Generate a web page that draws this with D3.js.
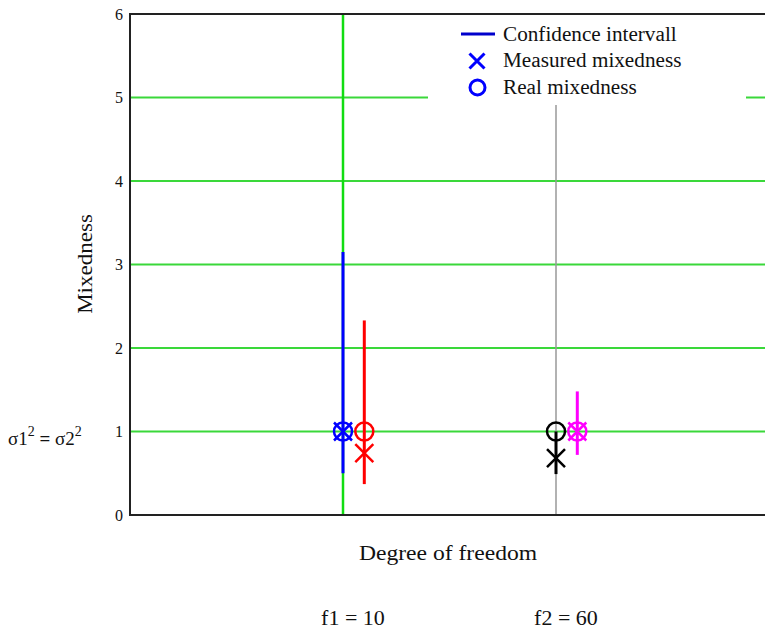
<!DOCTYPE html>
<html>
<head>
<meta charset="utf-8">
<script src="https://cdn.jsdelivr.net/npm/d3@7"></script>
<style>
  html, body { margin: 0; padding: 0; background: #fff; }
  svg { display: block; }
  text { font-family: "Liberation Serif", "Times New Roman", serif; fill: #111; }
</style>
</head>
<body>
<svg id="chart" width="765" height="632"></svg>
<script>
// Degree-of-freedom groups shown along the bottom
const groups = ["f1 = 10", "f2 = 60"];
// One entry per estimate: which group it belongs to and its slot inside the group
const seriesGroup = [0, 0, 1, 1];
const seriesSlot = [0, 1, 0, 1];
const seriesColor = ["#0000ff", "#ff0000", "#000000", "#ff00ff"];
// Measured and real mixedness, and the confidence interval bounds
const measured = [1.00, 0.74, 0.68, 1.00];
const real = [1.00, 1.00, 1.00, 1.00];
const ciLow = [0.50, 0.37, 0.49, 0.72];
const ciHigh = [3.15, 2.33, 1.00, 1.48];
const yTicks = [0, 1, 2, 3, 4, 5, 6];
const legendItems = ["Confidence intervall", "Measured mixedness", "Real mixedness"];

const svg = d3.select("#chart");
const pL = 130, pT = 14, pB = 515, pR = 770;

const y = d3.scaleLinear().domain([0, 6]).range([pB, pT]);
const x = d3.scaleLinear().domain([0, 3]).range([pL, pR - 1]);
const xOf = i => x(seriesGroup[i] + 1 + seriesSlot[i] * 0.1);

const green = "#3ad83a";

// wide serif text: stretch each label relative to its natural width
function wide(sel, scale) {
  sel.each(function () {
    const w = this.getComputedTextLength();
    d3.select(this).attr("textLength", w * scale).attr("lengthAdjust", "spacingAndGlyphs");
  });
  return sel;
}

// horizontal grid lines
svg.append("g").selectAll("line").data(yTicks.filter(t => t > 0 && t < 6)).join("line")
  .attr("x1", pL).attr("x2", pR)
  .attr("y1", d => y(d)).attr("y2", d => y(d))
  .attr("stroke", green).attr("stroke-width", 2);

// vertical markers for each degree-of-freedom group
svg.append("line")
  .attr("x1", x(1)).attr("x2", x(1)).attr("y1", pT).attr("y2", pB)
  .attr("stroke", "#11dd11").attr("stroke-width", 2.5);
svg.append("line")
  .attr("x1", x(2)).attr("x2", x(2)).attr("y1", pT).attr("y2", pB)
  .attr("stroke", "#999").attr("stroke-width", 1.5);

// legend panel sits over the grid
svg.append("rect").attr("x", 428).attr("y", pT + 1).attr("width", 318).attr("height", 90)
  .attr("fill", "#fff");

// y axis tick labels
const yAxis = d3.axisLeft(y).tickValues(yTicks).tickSize(0).tickPadding(7).tickFormat(d3.format("d"));
const ya = svg.append("g").attr("transform", `translate(${pL},0)`).call(yAxis);
ya.select(".domain").remove();
ya.selectAll("text").attr("font-family", "DejaVu Sans, sans-serif").attr("font-size", 16).attr("fill", "#111");

// frame
svg.append("path")
  .attr("d", `M${pR},${pT}H${pL}V${pB}H${pR}`)
  .attr("fill", "none").attr("stroke", "#222").attr("stroke-width", 2);

const idx = d3.range(measured.length);

// confidence intervals
svg.append("g").selectAll("line").data(idx).join("line")
  .attr("x1", xOf).attr("x2", xOf)
  .attr("y1", i => y(ciLow[i])).attr("y2", i => y(ciHigh[i]))
  .attr("stroke", i => seriesColor[i]).attr("stroke-width", 3);

// real mixedness circles
svg.append("g").selectAll("circle").data(idx).join("circle")
  .attr("cx", xOf).attr("cy", i => y(real[i])).attr("r", 9)
  .attr("fill", "none").attr("stroke", i => seriesColor[i]).attr("stroke-width", 2.5);

// measured mixedness crosses
const cross = s => `M${-s},${-s}L${s},${s}M${-s},${s}L${s},${-s}`;
svg.append("g").selectAll("path").data(idx).join("path")
  .attr("transform", i => `translate(${xOf(i)},${y(measured[i])})`)
  .attr("d", cross(9))
  .attr("fill", "none").attr("stroke", i => seriesColor[i]).attr("stroke-width", 2.5);

// legend
const lg = svg.append("g");
lg.append("line").attr("x1", 461).attr("x2", 495).attr("y1", 34).attr("y2", 34)
  .attr("stroke", "#0000cc").attr("stroke-width", 3);
lg.append("path").attr("transform", "translate(477,61)").attr("d", cross(7.5))
  .attr("fill", "none").attr("stroke", "#0000ff").attr("stroke-width", 3);
lg.append("circle").attr("cx", 477.5).attr("cy", 87.5).attr("r", 7.5)
  .attr("fill", "none").attr("stroke", "#0000ff").attr("stroke-width", 3);
wide(lg.selectAll("text").data(legendItems).join("text")
  .attr("x", 503).attr("y", (d, i) => 40.5 + i * 26.5)
  .attr("font-size", 20).text(d => d), 1.06);

// axis titles
wide(svg.append("text").attr("transform", "translate(92,264) rotate(-90)")
  .attr("text-anchor", "middle").attr("font-size", 20).text("Mixedness"), 1.15);
wide(svg.append("text").attr("x", 448).attr("y", 560)
  .attr("text-anchor", "middle").attr("font-size", 20).text("Degree of freedom"), 1.18);

// reference level annotation
const ann = svg.append("text").attr("x", 8).attr("y", 445).attr("font-size", 19);
ann.append("tspan").text("σ1");
ann.append("tspan").attr("dy", -9).attr("font-size", 14).text("2");
ann.append("tspan").attr("dy", 9).attr("font-weight", "bold").text(" = ");
ann.append("tspan").text("σ2");
ann.append("tspan").attr("dy", -9).attr("font-size", 14).text("2");

// group labels
wide(svg.append("g").selectAll("text").data(groups).join("text")
  .attr("x", (d, i) => x(i + 1) + 10)
  .attr("y", 625).attr("text-anchor", "middle").attr("font-size", 20)
  .text(d => d), 1.1);
</script>
</body>
</html>
